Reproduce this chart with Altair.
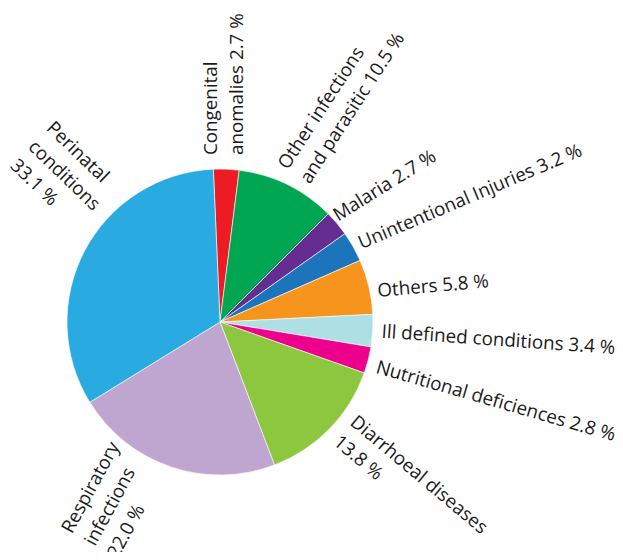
import altair as alt
import pandas as pd

# ---- data ----
categories = [
    "Congenital anomalies", "Other infections and parasitic", "Malaria",
    "Unintentional Injuries", "Others", "Ill defined conditions",
    "Nutritional deficiences", "Diarrhoeal diseases",
    "Respiratory infections", "Perinatal conditions",
]
values = [2.7, 10.5, 2.7, 3.2, 5.8, 3.4, 2.8, 13.8, 22.0, 33.1]
# label text as printed (line breaks as in the figure)
label_names = [
    "Congenital\nanomalies ", "Other infections\nand parasitic ", "Malaria ",
    "Unintentional Injuries ", "Others ", "Ill defined conditions ",
    "Nutritional deficiences ", "Diarrhoeal diseases\n",
    "Respiratory\ninfections\n", "Perinatal\nconditions\n",
]
colors = ["#ED1C24", "#00A651", "#662D91", "#1C75BC", "#F7941D",
          "#AEDFE5", "#EC008C", "#8DC63F", "#BEA6D0", "#29ABE2"]

# ---- label styling (rotation, nudge along the circle, distance from centre) ----
label_rotation = [270, 303, 328, 337, 355, 4, 16, 40, 298.5, 44]
label_nudge_deg = [-3.5, -2.0, -0.2, 2.3, 4.3, 2.3, 3.7, -6.0, 16.1, 19.9]
label_dist = [167, 166, 155, 159, 160, 162, 163, 164.5, 259, 260]

START = -2.5 * 3.141592653589793 / 180
TWO_PI = 2 * 3.141592653589793

df = pd.DataFrame({
    "category": categories,
    "value": values,
    "order": list(range(len(categories))),
    "label": [f"{n}{v:.1f} %" for n, v in zip(label_names, values)],
    "rot": label_rotation,
    "nudge": label_nudge_deg,
    "dist": label_dist,
})

theta_scale = alt.Scale(domain=[0, 100], range=[START, START + TWO_PI])

base = alt.Chart(df)

pie = base.mark_arc(outerRadius=153, stroke="white", strokeWidth=0.6).encode(
    theta=alt.Theta("value:Q", stack=True, scale=theta_scale),
    color=alt.Color("category:N", scale=alt.Scale(domain=categories, range=colors), legend=None),
    order=alt.Order("order:Q"),
)

labels = base.transform_window(
    cum="sum(value)", sort=[alt.SortField("order")], frame=[None, 0]
).transform_calculate(
    lab="datum.cum - datum.value / 2 + datum.nudge / 3.6"
).mark_text(
    align="left", baseline="alphabetic", font="Open Sans", fontSize=18.8,
    lineBreak="\n", lineHeight=26, color="#1a1a1a",
).encode(
    theta=alt.Theta("lab:Q", scale=theta_scale),
    radius=alt.Radius("dist:Q", scale=None),
    angle=alt.Angle("rot:Q", scale=None),
    text="label:N",
)

chart = alt.layer(pie, labels).properties(
    width=424, height=440,
    padding={"left": 0, "top": 94, "right": 183, "bottom": 10},
    autosize=alt.AutoSizeParams(type="none"),
).configure_view(stroke=None)

chart.save("out.html", embed_options={"renderer": "svg", "actions": False})
